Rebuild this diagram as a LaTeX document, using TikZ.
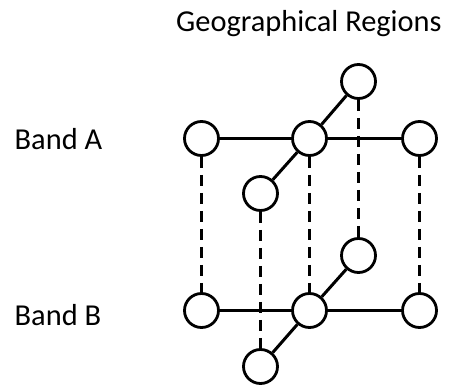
\documentclass[tikz,border=0pt]{standalone}
\usepackage{fontspec}
\setmainfont{Carlito}
\begin{document}
\begin{tikzpicture}[x=1pt,y=-1pt,
  region/.style={circle,draw=black,line width=2.8pt,fill=white,minimum size=34pt,inner sep=0pt},
  link/.style={line width=3pt,black},
  bandlink/.style={line width=3pt,black,dash pattern=on 11pt off 7pt},
  label/.style={anchor=base west,font=\fontsize{30.4}{36}\selectfont,inner sep=0pt}]
\useasboundingbox (0,0) rectangle (454,387);

% titles
\node[label] (title) at (176,31.5) {Geographical Regions};
\node[label] (bandA) at (14.5,150) {Band A};
\node[label] (bandB) at (14.5,325) {Band B};

% band A regions
\node[region] (a1) at (201.5,138.5) {};
\node[region] (a2) at (309.5,138.5) {};
\node[region] (a3) at (419.5,138.5) {};
\node[region] (a4) at (358.5,81.5) {};
\node[region] (a5) at (260.5,193.5) {};

% band B regions
\node[region] (b1) at (201.5,310.5) {};
\node[region] (b2) at (309.5,310.5) {};
\node[region] (b3) at (419.5,310.5) {};
\node[region] (b4) at (358.5,255.5) {};
\node[region] (b5) at (260.5,366.5) {};

% links inside each band
\foreach \b in {a,b}{
  \draw[link] (\b1) -- (\b2);
  \draw[link] (\b2) -- (\b3);
  \draw[link] (\b2) -- (\b4);
  \draw[link] (\b2) -- (\b5);
}

% links between the bands
\foreach \i in {1,...,5}{
  \draw[bandlink] (a\i.south) -- (b\i.north);
}
\end{tikzpicture}
\end{document}
